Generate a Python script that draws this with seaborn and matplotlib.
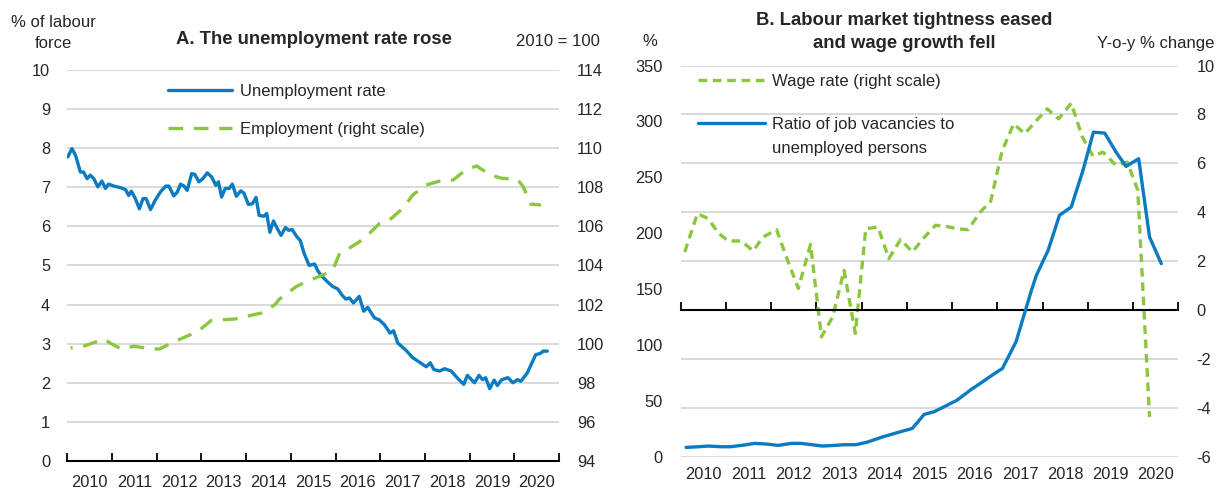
import matplotlib
matplotlib.use("Agg")
import matplotlib.pyplot as plt
import seaborn as sns

# Panel A: unemployment rate (% of labour force), monthly
unemp_t = [2010.01, 2010.10, 2010.18, 2010.29, 2010.36, 2010.44, 2010.51, 2010.59, 2010.68, 2010.77,
           2010.85, 2010.92, 2011.04, 2011.19, 2011.30, 2011.37, 2011.43, 2011.52, 2011.61, 2011.69,
           2011.76, 2011.86, 2011.97, 2012.08, 2012.20, 2012.27, 2012.38, 2012.46, 2012.53, 2012.61,
           2012.68, 2012.78, 2012.85, 2012.94, 2013.03, 2013.13, 2013.23, 2013.32, 2013.38, 2013.45,
           2013.53, 2013.62, 2013.69, 2013.78, 2013.88, 2013.95, 2014.05, 2014.14, 2014.22, 2014.29,
           2014.40, 2014.46, 2014.53, 2014.61, 2014.68, 2014.78, 2014.88, 2014.95, 2015.03, 2015.13,
           2015.21, 2015.30, 2015.41, 2015.53, 2015.60, 2015.68, 2015.83, 2015.94, 2016.05, 2016.14,
           2016.23, 2016.31, 2016.40, 2016.53, 2016.63, 2016.72, 2016.87, 2016.98, 2017.09, 2017.22,
           2017.30, 2017.39, 2017.56, 2017.73, 2017.90, 2018.03, 2018.12, 2018.20, 2018.33, 2018.44,
           2018.59, 2018.72, 2018.87, 2018.95, 2019.11, 2019.21, 2019.29, 2019.36, 2019.45, 2019.55,
           2019.62, 2019.72, 2019.86, 2019.97, 2020.07, 2020.15, 2020.29, 2020.48, 2020.58, 2020.65,
           2020.74]
unemp_v = [7.78, 7.99, 7.82, 7.39, 7.39, 7.22, 7.31, 7.22, 7.01, 7.16,
           6.97, 7.08, 7.03, 6.99, 6.94, 6.79, 6.90, 6.71, 6.45, 6.71,
           6.71, 6.43, 6.68, 6.88, 7.03, 7.03, 6.78, 6.88, 7.08, 7.03,
           6.92, 7.35, 7.33, 7.14, 7.22, 7.37, 7.26, 7.05, 7.14, 6.75,
           6.97, 6.97, 7.08, 6.77, 6.91, 6.85, 6.56, 6.58, 6.74, 6.28,
           6.26, 6.33, 5.85, 6.14, 5.98, 5.77, 5.97, 5.90, 5.92, 5.74,
           5.64, 5.30, 5.00, 5.04, 4.87, 4.74, 4.57, 4.46, 4.40, 4.25,
           4.14, 4.17, 4.04, 4.21, 3.83, 3.93, 3.66, 3.61, 3.49, 3.27,
           3.33, 3.02, 2.85, 2.64, 2.51, 2.41, 2.51, 2.34, 2.30, 2.36,
           2.30, 2.13, 1.96, 2.19, 2.00, 2.19, 2.08, 2.13, 1.85, 2.07,
           1.93, 2.08, 2.13, 2.00, 2.08, 2.04, 2.25, 2.72, 2.75, 2.81,
           2.81]

# Panel A: employment index (2010 = 100, right scale)
emp_t = [2010.07, 2010.40, 2010.82, 2010.95, 2011.20, 2011.50, 2011.85, 2012.06, 2012.41, 2012.92,
         2013.22, 2013.74, 2014.34, 2014.64, 2014.74, 2015.12, 2015.34, 2015.71, 2015.94, 2016.09,
         2016.24, 2016.54, 2016.76, 2016.99, 2017.21, 2017.51, 2017.73, 2018.03, 2018.41, 2018.63,
         2018.93, 2019.16, 2019.46, 2019.72, 2020.07, 2020.20, 2020.37, 2020.60]
emp_v = [99.78, 99.90, 100.24, 100.04, 99.73, 99.87, 99.73, 99.73, 100.12, 100.63,
         101.19, 101.26, 101.57, 101.99, 102.27, 102.92, 103.17, 103.51, 103.77, 104.62,
         104.79, 105.22, 105.65, 106.16, 106.33, 106.93, 107.61, 108.12, 108.37, 108.37,
         108.92, 109.09, 108.63, 108.46, 108.41, 108.03, 107.14, 107.09]

# Panel B: ratio of job vacancies to unemployed persons (%)
ratio_t = [2010.12, 2010.40, 2010.60, 2010.90, 2011.10, 2011.40, 2011.63, 2011.90, 2012.15, 2012.45,
           2012.66, 2012.90, 2013.14, 2013.40, 2013.61, 2013.87, 2014.13, 2014.47, 2014.78, 2015.12,
           2015.38, 2015.60, 2015.85, 2016.11, 2016.42, 2016.62, 2016.85, 2017.11, 2017.41, 2017.75,
           2017.86, 2018.12, 2018.37, 2018.63, 2018.89, 2019.12, 2019.37, 2019.62, 2019.84, 2020.12,
           2020.36, 2020.62]
ratio_v = [8.6, 9.2, 9.8, 9.2, 9.2, 10.7, 12.2, 11.6, 10.4, 12.2,
           12.2, 11.0, 9.8, 10.4, 11.0, 11.0, 13.4, 18.1, 21.7, 25.6,
           38.1, 40.5, 45.5, 50.9, 60.4, 65.8, 72.3, 79.2, 103.0, 149.0,
           162.5, 184.8, 216.1, 223.5, 256.3, 290.4, 289.6, 272.6, 259.8, 266.7,
           196.7, 172.9]

# Panel B: wage rate, y-o-y % change (right scale)
wage_t = [2010.09, 2010.37, 2010.61, 2010.83, 2011.05, 2011.34, 2011.60, 2011.82, 2012.12, 2012.34,
          2012.60, 2012.87, 2013.11, 2013.36, 2013.61, 2013.86, 2014.09, 2014.36, 2014.60, 2014.86,
          2015.12, 2015.37, 2015.63, 2015.85, 2016.12, 2016.35, 2016.62, 2016.85, 2017.10, 2017.36,
          2017.60, 2017.85, 2018.10, 2018.35, 2018.63, 2018.87, 2019.11, 2019.33, 2019.62, 2019.87,
          2020.10, 2020.36]
wage_v = [2.38, 3.95, 3.74, 3.16, 2.83, 2.83, 2.42, 2.99, 3.29, 2.15,
          0.89, 2.69, -1.09, -0.27, 1.63, -0.95, 3.33, 3.40, 2.11, 2.89,
          2.38, 2.95, 3.47, 3.43, 3.33, 3.29, 4.01, 4.45, 6.50, 7.62,
          7.21, 7.73, 8.23, 7.82, 8.46, 7.10, 6.30, 6.46, 5.92, 6.05,
          4.90, -4.36]

years = list(range(2010, 2022))
year_centres = [y + 0.5 for y in range(2010, 2021)]
year_labels = [str(y) for y in range(2010, 2021)]

BLUE = "#0b7bc1"
GREEN = "#8cc63f"
GRID = "#d9d9d9"
FS = 12.0       # legend / unit labels
FS_TICK = 11.8  # tick labels
FS_TITLE = 13.3

sns.set_style("white")
plt.rcParams["font.family"] = ["Liberation Sans", "DejaVu Sans"]
plt.rcParams["font.size"] = FS
plt.rcParams["axes.unicode_minus"] = False

W, H = 1222, 490
fig = plt.figure(figsize=(12.22, 4.9), dpi=100)


def style_xaxis(ax, ax_ticks, pad):
    ax.set_xlim(2010, 2021)
    ax.set_xticks(years)
    ax.set_xticks(year_centres, minor=True)
    ax.set_xticklabels(year_labels, minor=True)
    ax.tick_params(axis="x", which="major", labelbottom=False)
    ax.tick_params(axis="x", which="minor", length=0, labelsize=FS_TICK, pad=pad)
    ax_ticks.tick_params(axis="x", which="major", bottom=True, direction="in", length=5.5,
                         width=1.3, color="black", labelbottom=False)


# ---- Panel A ----
axA = fig.add_axes([0.0552, 0.0592, 0.4022, 0.798])
axA2 = axA.twinx()
sns.lineplot(x=unemp_t, y=unemp_v, ax=axA, color=BLUE, linewidth=2.4,
             label="Unemployment rate", legend=False)
sns.lineplot(x=emp_t, y=emp_v, ax=axA2, color=GREEN, linewidth=2.4,
             label="Employment (right scale)", legend=False)
axA2.lines[0].set_linestyle((3.8, (4.4, 3.2)))
axA.set_ylim(0, 10)
axA2.set_ylim(94, 114)
axA.set_yticks(range(0, 11))
axA2.set_yticks(range(94, 115, 2))
axA.yaxis.grid(True, color=GRID, linewidth=1.4)
axA.xaxis.grid(False)
style_xaxis(axA, axA, pad=10)
axA.tick_params(axis="y", length=0, labelsize=FS_TICK, pad=12.5)
axA2.tick_params(axis="y", length=0, labelsize=FS_TICK, pad=13)
for s in ["top", "left", "right"]:
    axA.spines[s].set_visible(False)
for s in axA2.spines.values():
    s.set_visible(False)
axA.spines["bottom"].set_color("black")
axA.spines["bottom"].set_linewidth(1.5)
for ax in (axA, axA2):
    ax.set_xlabel("")
    ax.set_ylabel("")

fig.text(0.2566, 0.919, "A. The unemployment rate rose", ha="center", va="center",
         fontsize=FS_TITLE, fontweight="bold")
fig.text(0.044, 0.933, "% of labour\nforce", ha="center", va="center", fontsize=FS,
         linespacing=1.5)
fig.text(0.491, 0.916, "2010 = 100", ha="right", va="center", fontsize=FS)
legA = fig.legend(handles=[axA.lines[0], axA2.lines[0]], loc="upper left",
                  bbox_to_anchor=(168 / W, 1 - 84 / H), bbox_transform=fig.transFigure,
                  frameon=False, fontsize=FS, borderpad=0, borderaxespad=0,
                  handlelength=64 / 16.67, handletextpad=8 / 16.67, labelspacing=1.4)
legA.get_lines()[1].set_linestyle((0, (4.4, 3.2)))

# ---- Panel B ----
axB = fig.add_axes([0.5570, 0.0673, 0.4074, 0.799])
axB2 = axB.twinx()
sns.lineplot(x=ratio_t, y=ratio_v, ax=axB, color=BLUE, linewidth=2.4,
             label="Ratio of job vacancies to", legend=False)
sns.lineplot(x=wage_t, y=wage_v, ax=axB2, color=GREEN, linewidth=2.4,
             label="Wage rate (right scale)", legend=False)
axB2.lines[0].set_dashes((2.6, 1.7))
axB.set_zorder(axB2.get_zorder() + 1)
axB.patch.set_visible(False)
axB.set_ylim(0, 350)
axB2.set_ylim(-6, 10)
axB.set_yticks(range(0, 351, 50))
axB2.set_yticks(range(-6, 11, 2))
axB2.yaxis.grid(True, color=GRID, linewidth=1.4)
axB.grid(False)
axB2.xaxis.grid(False)
axB2.xaxis.set_visible(True)
style_xaxis(axB, axB2, pad=7)
axB.tick_params(axis="x", which="major", length=0)
axB2.tick_params(axis="x", which="minor", length=0, labelbottom=False)
axB.tick_params(axis="y", length=0, labelsize=FS_TICK, pad=13)
axB2.tick_params(axis="y", length=0, labelsize=FS_TICK, pad=13)
for s in axB.spines.values():
    s.set_visible(False)
for s in ["top", "left", "right"]:
    axB2.spines[s].set_visible(False)
axB2.spines["bottom"].set_position(("data", 0))
axB2.spines["bottom"].set_color("black")
axB2.spines["bottom"].set_linewidth(1.5)
for ax in (axB, axB2):
    ax.set_xlabel("")
    ax.set_ylabel("")

fig.text(0.74, 0.935, "B. Labour market tightness eased\nand wage growth fell", ha="center",
         va="center", fontsize=FS_TITLE, fontweight="bold", linespacing=1.45)
fig.text(0.532, 0.916, "%", ha="center", va="center", fontsize=FS)
fig.text(0.994, 0.912, "Y-o-y % change", ha="right", va="center", fontsize=FS)
legB = fig.legend(handles=[axB2.lines[0], axB.lines[0]], loc="upper left",
                  bbox_to_anchor=(698 / W, 1 - 74 / H), bbox_transform=fig.transFigure,
                  frameon=False, fontsize=FS, borderpad=0, borderaxespad=0,
                  handlelength=67 / 16.67, handletextpad=7 / 16.67, labelspacing=1.7)

# second line of the ratio label, set under the first one
fig.canvas.draw()
bb = legB.get_texts()[1].get_window_extent()
fig.text(bb.x0 / W, bb.y0 / H - 24 / H, "unemployed persons", ha="left", va="bottom",
         fontsize=FS)

fig.savefig("out.png", dpi=100)
